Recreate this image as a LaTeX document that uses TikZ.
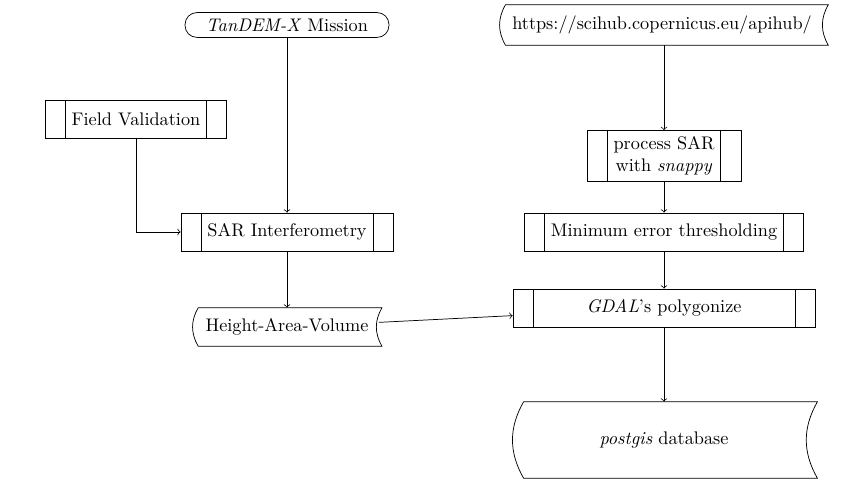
\documentclass[tikz,border=0pt]{standalone}
\usepackage{tikz}

\begin{document}
\begin{tikzpicture}[x=0.548pt, y=-0.548pt,
  predef/.style={draw, minimum height=20.8pt, inner xsep=14.5pt, align=center,
    path picture={\draw ([xshift=11pt]path picture bounding box.north west) -- ([xshift=11pt]path picture bounding box.south west)
      ([xshift=-11pt]path picture bounding box.north east) -- ([xshift=-11pt]path picture bounding box.south east);}},
  term/.style={draw, rounded corners=6.5pt, minimum height=13pt, inner xsep=11.5pt},
  store/.style={inner sep=0pt}]
\useasboundingbox (0,0) rectangle (850,496);
% left column
\node[term] (tdx) at (287,25) {\textit{TanDEM-X} Mission};
\node[predef] (field) at (136,119) {Field Validation};
\node[predef] (sar) at (287,232) {SAR Interferometry};
\node[store, minimum width=100.3pt, minimum height=20.8pt] (hav) at (287,327) {Height-Area-Volume};
% right column
\node[store, minimum width=176.5pt, minimum height=21.9pt] (url) at (662,25) {https://scihub.copernicus.eu/apihub/};
\node[predef] (snap) at (664,156) {process SAR\\with \textit{snappy}};
\node[predef] (mert) at (664,232) {Minimum error thresholding};
\node[predef, minimum width=165.5pt] (gdal) at (664,308) {\textit{GDAL}'s polygonize};
\node[store, minimum width=160.6pt, minimum height=41.6pt] (db) at (664,440) {\textit{postgis} database};
% storage outlines
\foreach \n/\d in {url/2.7pt, hav/1.7pt, db/3.6pt}
  \draw ([xshift=\d]\n.north west) -- ([xshift=\d]\n.north east) to[bend right=30] ([xshift=\d]\n.south east)
    -- ([xshift=\d]\n.south west) to[bend left=30] ([xshift=\d]\n.north west);
% arrows
\draw[->] (tdx) -- (sar);
\draw[->] (field) |- (sar);
\draw[->] (sar) -- (hav);
\draw[->] (hav) -- (gdal);
\draw[->] (url.south -| snap) -- (snap);
\draw[->] (snap) -- (mert);
\draw[->] (mert) -- (gdal);
\draw[->] (gdal) -- (db);
\end{tikzpicture}
\end{document}
